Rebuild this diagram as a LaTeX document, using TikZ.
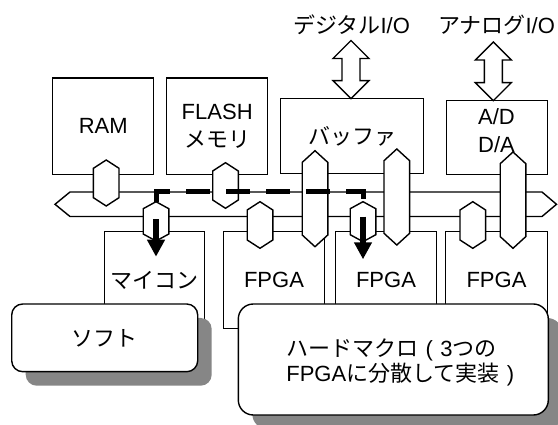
\documentclass[tikz,border=0pt]{standalone}
\usepackage{fontspec}
\setmainfont{Liberation Sans}
\newfontfamily\jp{Noto Sans CJK JP}
\usetikzlibrary{arrows.meta,shadows}
\definecolor{shadowgray}{RGB}{134,134,134}
% hexagonal bus port: centre x, top, bottom, tip height
\newcommand{\hexport}[4]{%
  \draw[port] (#1-12.8,#2+#4) -- (#1,#2) -- (#1+12.8,#2+#4) -- (#1+12.8,#3-#4)
    -- (#1,#3) -- (#1-12.8,#3-#4) -- cycle;}
% hollow two-way arrow: centre x, top, bottom
\newcommand{\ioarrow}[3]{%
  \draw[port] (#1,#2) -- (#1+18,#2+18) -- (#1+9,#2+18) -- (#1+9,#3-18)
    -- (#1+18,#3-18) -- (#1,#3) -- (#1-18,#3-18) -- (#1-9,#3-18)
    -- (#1-9,#2+18) -- (#1-18,#2+18) -- cycle;}
% wide bracket
\newcommand{\wpar}[1]{\makebox[22pt]{#1}}
\begin{document}
\begin{tikzpicture}[x=1pt, y=-1pt, line width=1.4pt, font=\fontsize{22}{28}\selectfont,
    box/.style={draw, fill=white, inner sep=0pt, minimum width=101pt},
    port/.style={draw, fill=white, line join=miter},
    datapath/.style={line width=5pt, dash pattern=on 24pt off 16pt},
    downarrow/.style={line width=6.5pt, -{Triangle[length=17pt,width=17pt]}},
    rbox/.style={draw, fill=white, inner sep=0pt,
      drop shadow={shadow xshift=14pt, shadow yshift=-14pt, fill=shadowgray, opacity=1}}]
    \useasboundingbox (0,0) rectangle (558,425);

    % bus
    \draw[fill=white] (70,192) -- (542,192) -- (556.5,204.3) -- (542,216.5)
      -- (70,216.5) -- (55,204.3) -- cycle;

    % upper blocks
    \node[box, minimum height=96.7pt] (ram) at (103.2,126.35) {RAM};
    \node[box, minimum height=96.7pt, align=center] (flash) at (217.2,126.35) {FLASH\\{\jp メモリ}};
    \node[box, minimum width=142.6pt, minimum height=74.6pt] (buf) at (352,136) {\jp バッファ};
    \node[box, minimum height=74pt] (ad) at (496.8,137.7) {};
    \node[align=center] (adtxt) at (496.5,131) {A/D\\D/A};

    % lower blocks
    \node[box, minimum width=100.4pt, minimum height=96.6pt] (mcu) at (154.5,280) {\jp マイコン};
    \node[box, minimum height=96.6pt] (fpga1) at (274,280) {FPGA};
    \node[box, minimum width=100.6pt, minimum height=96.6pt] (fpga2) at (386,280) {FPGA};
    \node[box, minimum width=101.6pt, minimum height=96.6pt] (fpga3) at (496.5,280) {FPGA};

    % ports onto the bus
    \hexport{106.2}{160}{206}{8.3}
    \hexport{225.5}{162.7}{208.3}{8.3}
    \hexport{156}{201.7}{241}{7}
    \hexport{260}{201.7}{248.3}{8.3}
    \hexport{315}{150.7}{246.7}{11.7}
    \hexport{363}{201.7}{241.7}{7}
    \hexport{396.8}{149}{245}{11.7}
    \hexport{472.8}{201.7}{248.3}{8.3}
    \hexport{513}{152}{248.3}{11.7}

    % data path mcu -> fpga
    \coordinate (mcuport) at (156,201.7);
    \coordinate (fpgaport) at (363,201.7);
    \draw[datapath] (mcuport) -- ++(0,-9.7) -| (fpgaport);
    \draw[downarrow] (156,219.3) -- (156,256.7);
    \draw[downarrow] (363,216.7) -- (363,259.3);

    % software / hard macro
    \node[rbox, rounded corners=11pt, minimum width=186pt, minimum height=67.7pt] (soft) at (104.7,337.85) {\jp ソフト};
    \node[rbox, rounded corners=15pt, minimum width=310pt, minimum height=111pt] (hard) at (393.3,359.5) {};
    \node[align=left, font=\fontsize{22}{25}\selectfont] (hardtxt) at (404,362.5)
      {{\jp ハードマクロ}\wpar{(}3{\jp つの}\\FPGA{\jp に分散して実装}\wpar{)}};

    % external I/O
    \node (dio) at (351.5,25) {{\jp デジタル}I/O};
    \node (aio) at (496.5,25) {{\jp アナログ}I/O};
    \ioarrow{351}{40.5}{98.7}
    \ioarrow{493.3}{42}{100.7}
\end{tikzpicture}
\end{document}
